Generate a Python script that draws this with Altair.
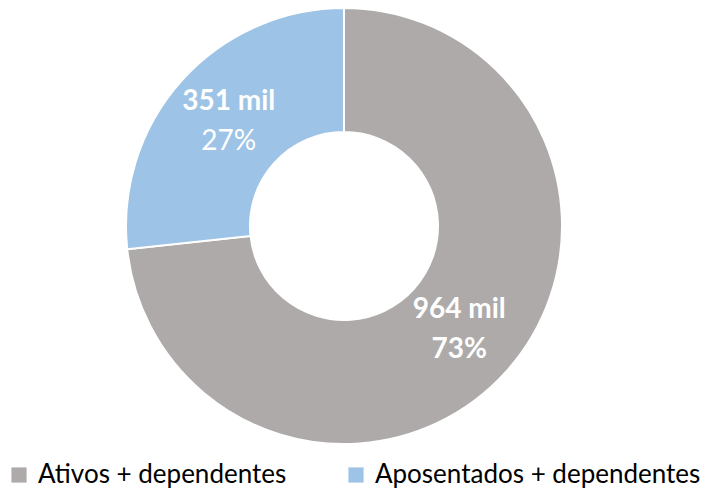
import altair as alt
import pandas as pd

categories = ["Ativos + dependentes", "Aposentados + dependentes"]
values = [964, 351]
value_labels = ["964 mil", "351 mil"]
pct_labels = ["73%", "27%"]
colors = ["#ADAAA9", "#9DC3E6"]

df = pd.DataFrame({
    "cat": categories,
    "val": values,
    "lab": value_labels,
    "pct": pct_labels,
    "idx": list(range(len(categories))),
})

FONT = "Lato"
CX, CY = 336, 218

base = alt.Chart(df).encode(
    theta=alt.Theta("val:Q", stack=True),
    order=alt.Order("idx:Q"),
    x=alt.value(CX),
    y=alt.value(CY),
)

arcs = base.mark_arc(outerRadius=218, innerRadius=94, stroke="white", strokeWidth=2).encode(
    color=alt.Color(
        "cat:N",
        scale=alt.Scale(domain=categories, range=colors),
        sort=categories,
        legend=alt.Legend(
            title=None,
            orient="none",
            legendX=-2,
            legendY=454,
            direction="horizontal",
            symbolType="square",
            symbolSize=230,
            symbolStrokeWidth=0,
            labelFont=FONT,
            labelFontSize=26,
            labelLimit=0,
            labelColor="#000000",
            columnPadding=56,
            symbolOffset=0,
            labelOffset=6,
        ),
    )
)

t1 = base.mark_text(radius=155, dy=-20, font=FONT, fontSize=28, fontWeight="bold", color="white").encode(
    text="lab:N"
)
t2 = base.mark_text(radius=155, dy=20, font=FONT, fontSize=28, fontWeight="bold", color="white").encode(
    text=alt.condition(alt.datum.idx == 0, "pct:N", alt.value(""))
)
t3 = base.mark_text(radius=155, dy=20, font=FONT, fontSize=28, fontWeight="normal", color="white").encode(
    text=alt.condition(alt.datum.idx == 1, "pct:N", alt.value(""))
)

chart = alt.layer(arcs, t1, t2, t3).properties(
    width=698, height=488, padding=0, autosize=alt.AutoSizeParams(type="none")
).configure_view(stroke=None)

chart.save("out.html", embed_options={"renderer": "svg", "actions": False})
